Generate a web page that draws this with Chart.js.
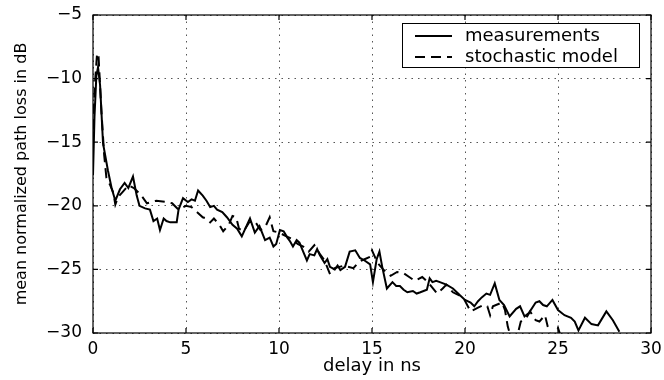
<!DOCTYPE html>
<html>
<head>
<meta charset="utf-8">
<script src="https://cdn.jsdelivr.net/npm/chart.js@4"></script>
<style>
  html, body { margin: 0; padding: 0; background: #fff; }
</style>
</head>
<body>
<canvas id="pathLoss" width="664" height="380"></canvas>
<script>
// delay in ns / mean normalized path loss in dB
var measDelay = [0.00, 0.08, 0.18, 0.27, 0.38, 0.54, 0.80, 1.00, 1.20, 1.45, 1.70, 1.90, 2.15, 2.35, 2.50, 2.80,
  3.06, 3.25, 3.45, 3.60, 3.80, 3.95, 4.15, 4.50, 4.60, 4.84, 5.10, 5.30, 5.48, 5.65, 5.90, 6.10, 6.30, 6.50, 6.67,
  6.95, 7.20, 7.50, 7.75, 8.00, 8.28, 8.44, 8.70, 8.95, 9.25, 9.50, 9.70, 9.85, 10.05, 10.25, 10.45, 10.60, 10.75,
  10.95, 11.10, 11.30, 11.50, 11.65, 11.90, 12.05, 12.20, 12.45, 12.60, 12.74, 13.00, 13.15, 13.30, 13.55, 13.80,
  14.10, 14.35, 14.60, 14.90, 15.05, 15.25, 15.40, 15.55, 15.80, 16.10, 16.30, 16.50, 16.70, 16.90, 17.20, 17.40,
  17.60, 17.95, 18.10, 18.25, 18.45, 18.65, 19.00, 19.35, 19.70, 20.00, 20.30, 20.50, 20.70, 20.90, 21.15, 21.35,
  21.60, 21.85, 22.10, 22.40, 22.75, 22.96, 23.20, 23.45, 23.80, 24.00, 24.20, 24.40, 24.70, 25.00, 25.35, 25.70,
  25.90, 26.10, 26.45, 26.80, 27.15, 27.60, 27.95, 28.30];
var measLoss = [-17.6, -13.0, -9.8, -9.1, -10.5, -15.1, -17.2, -18.6, -19.6, -18.7, -18.2, -18.6, -17.7, -19.2, -20.0, -20.2,
  -20.3, -21.2, -21.0, -21.9, -21.0, -21.2, -21.3, -21.3, -20.3, -19.4, -19.7, -19.5, -19.6, -18.8, -19.2, -19.6, -20.1, -20.0, -20.3,
  -20.5, -20.9, -21.5, -21.8, -22.4, -21.5, -21.0, -22.1, -21.6, -22.7, -22.5, -23.2, -23.0, -21.9, -22.0, -22.5, -22.8, -23.2,
  -22.7, -22.9, -23.6, -24.3, -23.8, -23.9, -23.4, -23.9, -24.5, -24.2, -24.8, -25.0, -24.7, -25.05, -24.8, -23.6,
  -23.5, -24.1, -24.3, -24.6, -26.0, -24.2, -23.6, -24.8, -26.5, -26.0, -26.3, -26.3, -26.6, -26.8, -26.7, -26.9,
  -26.8, -26.6, -25.7, -26.0, -25.9, -26.0, -26.2, -26.5, -27.0, -27.4, -27.6, -27.9, -27.5, -27.2, -26.9, -27.0,
  -26.1, -27.4, -27.8, -28.7, -28.1, -27.9, -28.7, -28.4, -27.6, -27.5, -27.8, -27.9, -27.4, -28.2, -28.6, -28.8,
  -29.1, -29.8, -28.8, -29.3, -29.4, -28.3, -29.0, -29.9];

var modelDelay = [0.00, 0.10, 0.22, 0.30, 0.45, 0.60, 0.72, 0.90, 1.10, 1.20, 1.35, 1.60, 1.90, 2.20, 2.40, 2.60,
  2.90, 3.40, 4.00, 4.25, 4.60, 5.00, 5.30, 5.60, 5.90, 6.10, 6.30, 6.50, 6.80, 7.00, 7.30, 7.50, 7.70,
  7.85, 8.10, 8.40, 8.70, 9.00, 9.25, 9.50, 9.70, 10.00, 10.40, 10.70, 11.00, 11.30, 11.60, 11.90, 12.20,
  12.45, 12.75, 13.00, 13.50, 14.00, 14.30, 14.60, 14.90, 15.00, 15.30, 15.60, 16.00, 16.35, 16.70, 17.00,
  17.30, 17.70, 18.00, 18.50, 18.80, 19.00, 19.35, 19.90, 20.30, 20.70, 21.00, 21.20, 21.35, 21.50, 22.00,
  22.15, 22.30, 22.50, 22.80, 23.00, 23.30, 23.50, 23.80, 24.00, 24.30, 24.45, 24.60, 24.85, 25.00, 25.20];
var modelLoss = [-14.0, -10.5, -8.0, -8.3, -12.5, -16.0, -17.8, -18.3, -19.0, -19.9, -19.3, -18.9, -18.4, -18.6, -18.9, -19.2,
  -19.8, -19.6, -19.7, -19.8, -20.3, -20.0, -20.1, -20.5, -20.9, -21.0, -21.3, -21.0, -21.5, -22.0, -21.5, -20.8, -20.9,
  -21.8, -22.0, -21.3, -21.2, -21.9, -21.7, -20.9, -22.0, -22.1, -22.4, -22.6, -23.0, -23.2, -23.6, -23.1, -23.8,
  -24.3, -25.4, -24.9, -24.7, -24.9, -24.4, -24.2, -24.0, -23.5, -24.5, -25.0, -25.5, -25.2, -25.3, -25.6,
  -25.9, -25.6, -26.0, -26.9, -26.5, -26.2, -26.8, -27.2, -28.3, -28.0, -27.8, -27.9, -28.6, -27.9, -27.6,
  -28.2, -29.5, -30.5, -30.3, -29.1, -28.8, -28.3, -29.0, -29.1, -28.6, -29.5, -30.3, -30.2, -29.6, -30.5];

var delayTicks = [0, 5, 10, 15, 20, 25, 30];
var lossTicks = [-30, -25, -20, -15, -10, -5];

function toPoints(xs, ys) {
  return xs.map(function (x, i) { return { x: x, y: ys[i] }; });
}

var fontFamily = '"DejaVu Sans", "Liberation Sans", sans-serif';

// box around the plot, inward tick marks and the legend box
var framePlugin = {
  id: 'frame',
  afterDraw: function (chart) {
    var ctx = chart.ctx;
    var a = chart.chartArea;
    var xs = chart.scales.x, ys = chart.scales.y;
    ctx.save();
    ctx.strokeStyle = '#000';
    ctx.lineWidth = 1.2;
    ctx.setLineDash([]);
    ctx.strokeRect(a.left, a.top, a.right - a.left, a.bottom - a.top);
    ctx.beginPath();
    delayTicks.forEach(function (t) {
      var px = xs.getPixelForValue(t);
      ctx.moveTo(px, a.bottom); ctx.lineTo(px, a.bottom - 5);
      ctx.moveTo(px, a.top); ctx.lineTo(px, a.top + 5);
    });
    lossTicks.forEach(function (t) {
      var py = ys.getPixelForValue(t);
      ctx.moveTo(a.left, py); ctx.lineTo(a.left + 5, py);
      ctx.moveTo(a.right, py); ctx.lineTo(a.right - 5, py);
    });
    ctx.stroke();

    // legend
    var bx = 402, by = 23, bw = 237, bh = 44;
    ctx.fillStyle = '#fff';
    ctx.fillRect(bx, by, bw, bh);
    ctx.lineWidth = 1;
    ctx.strokeRect(bx + 0.5, by + 0.5, bw, bh);
    ctx.font = '18px ' + fontFamily;
    ctx.fillStyle = '#000';
    ctx.textBaseline = 'middle';
    chart.data.datasets.forEach(function (ds, i) {
      var ly = by + 13 + i * 21;
      ctx.beginPath();
      ctx.lineWidth = ds.borderWidth;
      ctx.setLineDash(ds.borderDash || []);
      ctx.moveTo(415, ly);
      ctx.lineTo(452, ly);
      ctx.stroke();
      ctx.setLineDash([]);
      ctx.fillText(ds.label, 465, ly);
    });
    ctx.restore();
  }
};

new Chart(document.getElementById('pathLoss'), {
  type: 'line',
  data: {
    datasets: [{
      label: 'measurements',
      data: toPoints(measDelay, measLoss),
      borderColor: '#000',
      borderWidth: 2,
      pointRadius: 0,
      tension: 0,
      clip: 0
    }, {
      label: 'stochastic model',
      data: toPoints(modelDelay, modelLoss),
      borderColor: '#000',
      borderWidth: 2,
      borderDash: [10, 6],
      pointRadius: 0,
      tension: 0,
      clip: 0
    }]
  },
  options: {
    responsive: false,
    animation: false,
    devicePixelRatio: 1,
    layout: {
      padding: { left: 0, right: 13, top: 15, bottom: 0 }
    },
    plugins: {
      legend: { display: false },
      tooltip: { enabled: false }
    },
    scales: {
      x: {
        type: 'linear',
        min: 0,
        max: 30,
        afterFit: function (scale) {
          scale.height = 47;
          scale.paddingLeft = 0;
          scale.paddingRight = 0;
        },
        afterBuildTicks: function (scale) {
          scale.ticks = delayTicks.map(function (v) { return { value: v }; });
        },
        grid: {
          color: '#555',
          lineWidth: 1,
          drawTicks: false
        },
        border: { display: false, dash: [1.5, 5] },
        ticks: {
          color: '#000',
          padding: 6,
          maxRotation: 0,
          font: { family: fontFamily, size: 17 }
        },
        title: {
          display: true,
          text: 'delay in ns',
          color: '#000',
          padding: { top: 0, bottom: 3 },
          font: { family: fontFamily, size: 18 }
        }
      },
      y: {
        type: 'linear',
        min: -30,
        max: -5,
        afterFit: function (scale) {
          scale.width = 93;
          scale.paddingTop = 0;
          scale.paddingBottom = 0;
        },
        afterBuildTicks: function (scale) {
          scale.ticks = lossTicks.map(function (v) { return { value: v }; });
        },
        grid: {
          color: '#555',
          lineWidth: 1,
          drawTicks: false
        },
        border: { display: false, dash: [1.5, 5] },
        ticks: {
          color: '#000',
          padding: 11,
          font: { family: fontFamily, size: 17 },
          callback: function (value) {
            return value < 0 ? '\u2212' + Math.abs(value) : String(value);
          }
        },
        title: {
          display: true,
          text: 'mean normalized path loss in dB',
          color: '#000',
          padding: { top: 12, bottom: 0 },
          font: { family: fontFamily, size: 16 }
        }
      }
    }
  },
  plugins: [framePlugin]
});
</script>
</body>
</html>
